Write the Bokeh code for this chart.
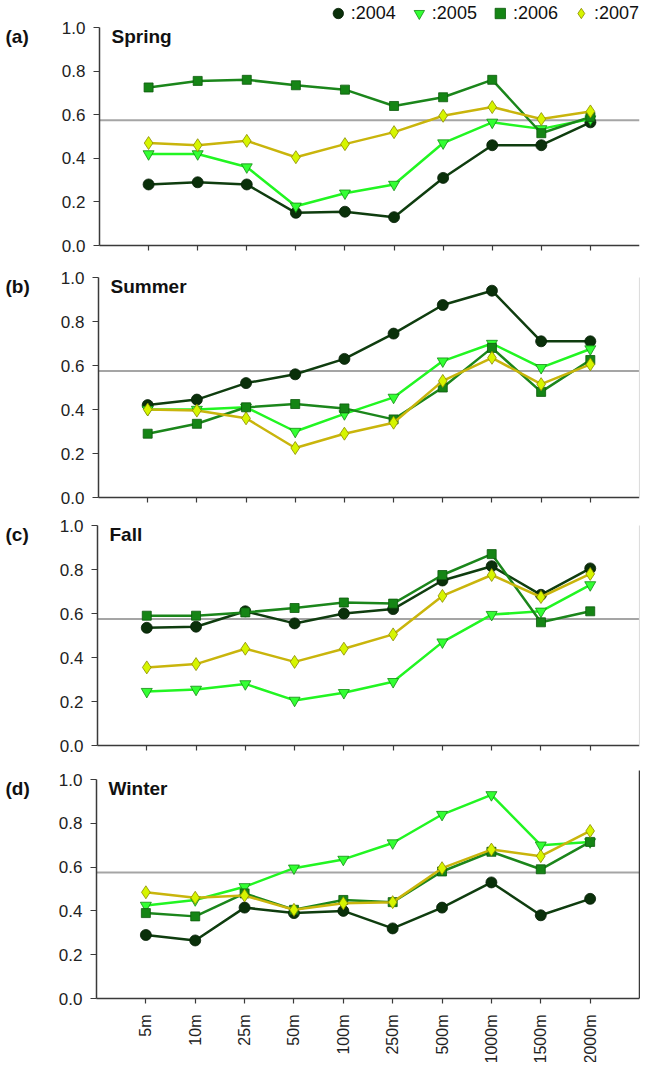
import math
from bokeh.plotting import figure
from bokeh.models import (Range1d, FixedTicker, PrintfTickFormatter, Label,
                          Legend, LegendItem, LinearAxis, ColumnDataSource)
from bokeh.layouts import column
from bokeh.embed import file_html
from bokeh.resources import INLINE

# ---------------- data ----------------
categories = ["5m", "10m", "25m", "50m", "100m", "250m", "500m", "1000m", "1500m", "2000m"]
years = ["2004", "2005", "2006", "2007"]
seasons = ["Spring", "Summer", "Fall", "Winter"]
panel_tags = ["(a)", "(b)", "(c)", "(d)"]

spring_2004 = [0.28, 0.29, 0.28, 0.15, 0.155, 0.13, 0.31, 0.46, 0.46, 0.565]
spring_2005 = [0.42, 0.42, 0.36, 0.18, 0.24, 0.28, 0.47, 0.565, 0.535, 0.58]
spring_2006 = [0.725, 0.755, 0.76, 0.735, 0.715, 0.64, 0.68, 0.76, 0.515, 0.59]
spring_2007 = [0.47, 0.46, 0.48, 0.405, 0.465, 0.52, 0.595, 0.635, 0.58, 0.615]

summer_2004 = [0.42, 0.445, 0.52, 0.56, 0.63, 0.745, 0.875, 0.94, 0.71, 0.71]
summer_2005 = [0.40, 0.40, 0.41, 0.30, 0.38, 0.455, 0.62, 0.70, 0.59, 0.675]
summer_2006 = [0.29, 0.335, 0.41, 0.425, 0.405, 0.355, 0.50, 0.68, 0.48, 0.625]
summer_2007 = [0.40, 0.395, 0.36, 0.225, 0.29, 0.34, 0.53, 0.635, 0.515, 0.605]

fall_2004 = [0.535, 0.54, 0.61, 0.555, 0.60, 0.62, 0.75, 0.815, 0.685, 0.805]
fall_2005 = [0.245, 0.255, 0.28, 0.205, 0.24, 0.29, 0.47, 0.595, 0.61, 0.73]
fall_2006 = [0.59, 0.59, 0.605, 0.625, 0.65, 0.645, 0.775, 0.87, 0.56, 0.61]
fall_2007 = [0.355, 0.37, 0.44, 0.38, 0.44, 0.505, 0.68, 0.775, 0.675, 0.78]

winter_2004 = [0.29, 0.265, 0.415, 0.39, 0.40, 0.32, 0.415, 0.53, 0.38, 0.455]
winter_2005 = [0.425, 0.45, 0.51, 0.595, 0.635, 0.71, 0.84, 0.93, 0.70, 0.715]
winter_2006 = [0.39, 0.375, 0.48, 0.405, 0.45, 0.44, 0.58, 0.67, 0.59, 0.715]
winter_2007 = [0.485, 0.46, 0.47, 0.405, 0.435, 0.44, 0.595, 0.68, 0.65, 0.765]

threshold = 0.575
y_ticks = [0.0, 0.2, 0.4, 0.6, 0.8, 1.0]

season_data = [
    [spring_2004, spring_2005, spring_2006, spring_2007],
    [summer_2004, summer_2005, summer_2006, summer_2007],
    [fall_2004, fall_2005, fall_2006, fall_2007],
    [winter_2004, winter_2005, winter_2006, winter_2007],
]

# ---------------- styles / layout ----------------
FONT = "Liberation Sans"
line_colors = ["#0f3d0f", "#22f522", "#1b861b", "#c9b50c"]
fill_colors = ["#0a300a", "#33ff33", "#158515", "#d6f500"]
edge_colors = ["#062006", "#128a12", "#0c5a0c", "#8a8a00"]
markers = ["circle", "inverted_triangle", "square", "diamond"]
sizes = [11, 11, 9, 13]
AXIS_COLOR = "#3a3a3a"

WIDTH = 640
top_pad = [27, 17, 13, 19]        # px between figure top and the 1.0 level
frame_h = [218, 220, 220, 219]    # px between 0.0 and 1.0
bottoms = [15, 15, 15, 64]        # px below the 0.0 axis
axis_px = [99, 98, 97, 96]        # px from figure left to the y axis
right_edge = WIDTH - 1

x_pos = list(range(1, len(categories) + 1))
x_max = len(categories) + 1

figs = []
legend_renderers = []
for i, season in enumerate(seasons):
    scale_x = (right_edge - axis_px[i]) / x_max
    x_start = -axis_px[i] / scale_x
    y_end = 1.0 + top_pad[i] / frame_h[i]
    y_start = -bottoms[i] / frame_h[i]
    height = top_pad[i] + frame_h[i] + bottoms[i]

    p = figure(width=WIDTH, height=height, output_backend="svg", toolbar_location=None,
               x_range=Range1d(x_start, x_max), y_range=Range1d(y_start, y_end),
               min_border_left=0, min_border_right=1,
               min_border_top=0, min_border_bottom=0)
    p.outline_line_color = None
    p.grid.visible = False
    p.background_fill_color = "white"
    p.border_fill_color = "white"

    # y axis, drawn at x = 0 inside the frame
    ya = p.yaxis[0]
    ya.fixed_location = 0
    ya.bounds = (0, 1.0)
    ya.ticker = FixedTicker(ticks=y_ticks)
    ya.formatter = PrintfTickFormatter(format="%.1f")
    ya.minor_tick_line_color = None
    ya.major_tick_in = 0
    ya.major_tick_out = 6
    ya.major_label_standoff = 8
    ya.axis_line_color = AXIS_COLOR
    ya.axis_line_width = 1.5
    ya.major_tick_line_color = AXIS_COLOR
    ya.major_tick_line_width = 1.2
    ya.major_label_text_font = FONT
    ya.major_label_text_font_size = "17px"
    ya.major_label_text_color = "#222222"

    # x axis, drawn at y = 0 inside the frame
    xa = p.xaxis[0]
    xa.fixed_location = 0
    xa.bounds = (0, x_max)
    xa.ticker = FixedTicker(ticks=x_pos)
    xa.major_label_overrides = {x: c for x, c in zip(x_pos, categories)}
    xa.minor_tick_line_color = None
    xa.major_tick_in = 0
    xa.major_tick_out = 5
    xa.axis_line_color = AXIS_COLOR
    xa.axis_line_width = 1.5
    xa.major_tick_line_color = AXIS_COLOR
    xa.major_tick_line_width = 1.2
    xa.major_label_text_font = FONT
    if i == 3:
        xa.major_label_orientation = math.pi / 2
        xa.major_label_text_font_size = "16px"
        xa.major_label_standoff = 11
        xa.major_label_text_color = "#222222"
    else:
        xa.major_label_text_font_size = "0px"
        xa.major_label_text_color = None
        xa.major_label_standoff = 0

    # right edge line
    if i > 0:
        ra = LinearAxis(major_tick_out=0, major_tick_in=0, minor_tick_out=0, minor_tick_in=0,
                        major_label_text_font_size="0px", major_label_text_color=None,
                        major_label_standoff=0,
                        axis_line_color=("#dddddd" if i < 3 else AXIS_COLOR),
                        axis_line_width=1.2 if i < 3 else 1.5)
        ra.ticker = FixedTicker(ticks=[])
        ra.bounds = (0, 1.0 if i < 3 else 1.04)
        p.add_layout(ra, "right")

    # reference line (from the y axis to the right edge)
    p.segment(x0=[0], y0=[threshold], x1=[x_max], y1=[threshold],
              line_color="#a5a5a5", line_width=2)

    # series
    for k, yr in enumerate(years):
        src = ColumnDataSource(dict(x=x_pos, y=season_data[i][k]))
        p.line("x", "y", source=src, line_color=line_colors[k], line_width=2.5)
        r = p.scatter("x", "y", source=src, marker=markers[k], size=sizes[k],
                      fill_color=fill_colors[k], line_color=edge_colors[k], line_width=0.8)
        if i == 0:
            legend_renderers.append(r)

    # season label and panel tag
    p.add_layout(Label(x=0, y=1.0, x_offset=12, y_offset=2, text=season, text_font=FONT,
                       text_font_size="19px", text_font_style="bold",
                       text_baseline="top", text_color="#111111"))
    p.add_layout(Label(x=x_start, y=1.0, x_offset=5, y_offset=2, text=panel_tags[i],
                       text_font=FONT, text_font_size="19px", text_font_style="bold",
                       text_baseline="top", text_color="#111111"))
    figs.append(p)

legend = Legend(items=[LegendItem(label=":" + yr, renderers=[r])
                       for yr, r in zip(years, legend_renderers)],
                orientation="horizontal", location="top_right",
                glyph_width=26, glyph_height=26, label_height=20,
                label_standoff=0, spacing=10, padding=0, margin=0,
                border_line_color=None, background_fill_alpha=0,
                label_text_font=FONT, label_text_font_size="18px",
                label_text_color="#111111")
figs[0].add_layout(legend)

layout = column(*figs, spacing=0)
open("out.html", "w").write(file_html(layout, INLINE))
